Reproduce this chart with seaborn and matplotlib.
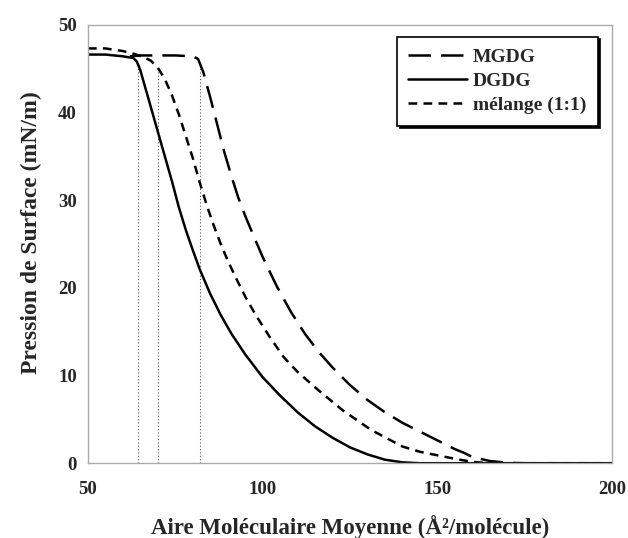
import pandas as pd
import matplotlib.pyplot as plt
import seaborn as sns

# isothermes (aire en Å²/molécule, pression en mN/m)
mgdg_x = [62, 65, 70, 75, 80, 81.5, 83, 85, 87, 89, 91, 93, 95, 97, 100, 104,
          108, 112, 116, 120, 125, 130, 135, 140, 145, 150, 155, 157.5, 160,
          165, 170, 175, 200]
mgdg_y = [46.4, 46.5, 46.5, 46.5, 46.4, 46.1, 44.6, 41.7, 38.6, 35.5, 32.8,
          30.3, 28.2, 26.3, 23.5, 20.2, 17.3, 14.8, 12.7, 10.9, 8.9, 7.2, 5.8,
          4.6, 3.6, 2.6, 1.6, 1.2, 0.7, 0.25, 0.05, 0.0, 0.0]

dgdg_x = [50, 55, 60, 63, 64, 65, 66, 68, 70, 72, 74, 76, 78, 80, 82, 85, 88,
          91, 95, 100, 105, 110, 115, 120, 125, 130, 135, 140, 145, 200]
dgdg_y = [46.6, 46.6, 46.4, 46.2, 45.8, 44.8, 43.4, 40.6, 37.8, 35.0, 32.2,
          29.2, 26.6, 24.3, 22.1, 19.3, 16.9, 14.8, 12.4, 9.8, 7.7, 5.8, 4.2,
          2.9, 1.8, 1.0, 0.4, 0.1, 0.0, 0.0]

mel_x = [50, 55, 60, 63, 66, 68, 70, 72, 74, 76, 78, 80, 82, 84, 86, 88, 90,
         92.5, 95, 98, 102, 106, 110, 116, 123, 131, 140, 145, 150, 155, 160,
         165, 200]
mel_y = [47.3, 47.3, 47.0, 46.7, 46.3, 45.9, 45.1, 43.8, 42.0, 39.8, 37.3,
         34.8, 32.0, 29.4, 27.1, 25.0, 23.1, 21.0, 19.0, 16.9, 14.4, 12.1,
         10.4, 8.3, 6.0, 3.8, 1.9, 1.3, 0.9, 0.5, 0.15, 0.0, 0.0]

# limites de phase (lignes pointillées)
ref_x = [64.3, 70.0, 82.2]
ref_top = [45.6, 45.1, 46.0]

df = pd.concat([
    pd.DataFrame({'aire': mgdg_x, 'pression': mgdg_y, 'lipide': 'MGDG'}),
    pd.DataFrame({'aire': dgdg_x, 'pression': dgdg_y, 'lipide': 'DGDG'}),
    pd.DataFrame({'aire': mel_x, 'pression': mel_y, 'lipide': 'mélange (1:1)'}),
])

sns.set_style('white')
plt.rcParams['font.family'] = ['Liberation Serif', 'DejaVu Serif']
plt.rcParams['font.weight'] = 'bold'

fig, ax = plt.subplots(figsize=(6.28, 5.38), dpi=100)
fig.subplots_adjust(left=0.140, right=0.975, top=0.954, bottom=0.139)

ax.vlines(ref_x, 0, ref_top, colors='#555555', linestyles=(0, (1, 2)), linewidth=0.8)

sns.lineplot(data=df, x='aire', y='pression', hue='lipide', style='lipide',
             palette=['black', 'black', 'black'],
             dashes=[(9, 4), '', (3.5, 2.5)], linewidth=1.8, sort=False, ax=ax)

ax.set_xlim(50, 200)
ax.set_ylim(0, 50)
ax.set_xticks([50, 100, 150, 200])
ax.set_xticks([75, 125, 175], minor=True)
ax.set_yticks([0, 10, 20, 30, 40, 50])
ax.set_yticks([5, 15, 25, 35, 45], minor=True)
ax.tick_params(which='major', direction='in', length=6, color='#aaaaaa',
               labelsize=13.5)
ax.tick_params(which='minor', direction='in', length=3.5, color='#aaaaaa')
ax.tick_params(axis='x', which='major', pad=13)
ax.tick_params(axis='y', which='major', pad=8)
for lbl in ax.get_xticklabels() + ax.get_yticklabels():
    lbl.set_fontweight('bold')
for s in ax.spines.values():
    s.set_color('#aaaaaa')
    s.set_linewidth(1.0)

ax.set_xlabel('Aire Moléculaire Moyenne (Å²/molécule)', fontsize=16.5,
              fontweight='bold')
ax.set_ylabel('Pression de Surface (mN/m)', fontsize=17, fontweight='bold')
ax.xaxis.set_label_coords(0.5, -0.118)
ax.yaxis.set_label_coords(-0.088, 0.527)

leg = ax.legend(loc='upper right', bbox_to_anchor=(0.972, 0.973),
                borderaxespad=0, frameon=True, fancybox=False,
                shadow={'color': 'black', 'alpha': 1},
                prop={'weight': 'bold', 'size': 14}, handlelength=3.0,
                handletextpad=0.3, borderpad=0.6, labelspacing=0.33)
leg.get_frame().set_edgecolor('black')
leg.get_frame().set_linewidth(1.2)

plt.savefig('out.png', dpi=100)
